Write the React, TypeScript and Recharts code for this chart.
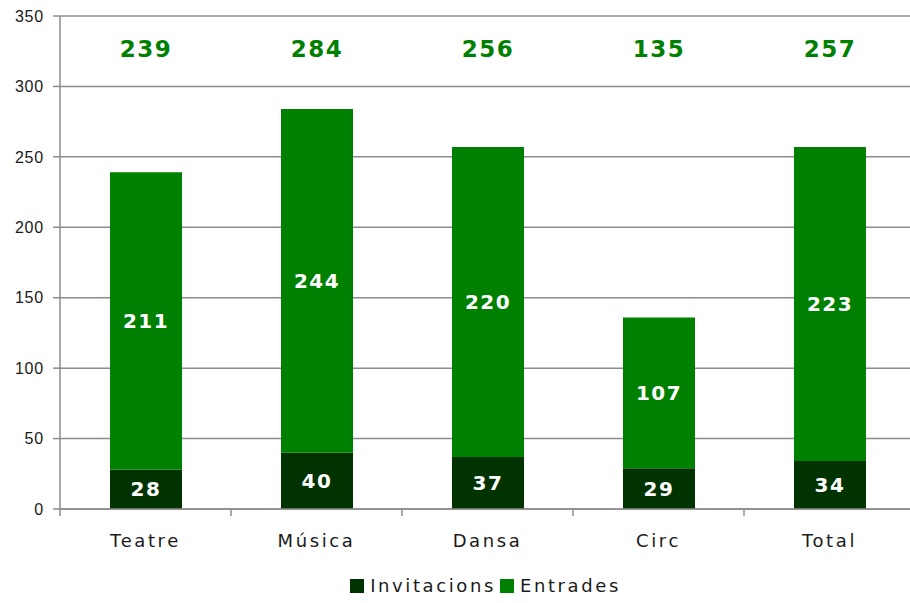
import React from 'react';
import { BarChart, Bar, XAxis, YAxis, CartesianGrid, Legend, LabelList } from 'recharts';

const categories = ['Teatre', 'Música', 'Dansa', 'Circ', 'Total'];
const invitacions = [28, 40, 37, 29, 34];
const entrades = [211, 244, 220, 107, 223];
const totals = [239, 284, 256, 135, 257];
const yTicks = [0, 50, 100, 150, 200, 250, 300, 350];

const DARK = '#003300';
const GREEN = '#008000';
const GRID = '#8c8c8c';

const data = categories.map((c, i) => ({
  name: c,
  Invitacions: invitacions[i],
  Entrades: entrades[i],
  total: totals[i],
}));

const BAND = 171;

const XTick = (props: any) => {
  const { x, y, payload, index } = props;
  const last = index === categories.length - 1;
  return (
    <g>
      <line x1={x - BAND / 2} x2={x - BAND / 2} y1={y - 8} y2={y - 1} stroke={GRID} strokeWidth={1.5} />
      {last && <line x1={x + BAND / 2} x2={x + BAND / 2} y1={y - 8} y2={y - 1} stroke={GRID} strokeWidth={1.5} />}
      <text x={x} y={y + 30} textAnchor="middle" fontFamily="DejaVu Sans" fontSize={18} letterSpacing={2.6} fill="#1a1a1a">
        {payload.value}
      </text>
    </g>
  );
};

const TotalLabel = (props: any) => {
  const { x, width, index } = props;
  return (
    <text x={x + width / 2} y={57} textAnchor="middle" fontFamily="DejaVu Sans" fontWeight="bold" fontSize={23} letterSpacing={1.5} fill={GREEN}>
      {totals[index]}
    </text>
  );
};

const InnerLabel = (props: any) => {
  const { x, y, width, height, value } = props;
  return (
    <text x={x + width / 2} y={y + height / 2 + 7} textAnchor="middle" fontFamily="DejaVu Sans" fontWeight="bold" fontSize={20} letterSpacing={1.5} fill="#ffffff">
      {value}
    </text>
  );
};

const LegendContent = () => (
  <div style={{ display: 'flex', justifyContent: 'center', alignItems: 'center', fontFamily: 'DejaVu Sans', fontSize: 18, letterSpacing: 2.6, color: '#1a1a1a' }}>
    {[['Invitacions', DARK], ['Entrades', GREEN]].map(([n, c]) => (
      <span key={n} style={{ display: 'inline-flex', alignItems: 'center', marginRight: 4 }}>
        <span style={{ display: 'inline-block', width: 14, height: 14, background: c, marginRight: 6 }} />
        {n}
      </span>
    ))}
  </div>
);

export default function App() {
  return (
    <div style={{ position: 'absolute', left: 0, top: 0, width: 910, height: 603, overflow: 'hidden', background: '#fff' }}>
      <BarChart width={920} height={603} data={data} margin={{ top: 16, right: 5, left: 0, bottom: 33 }} barSize={72}>
        <CartesianGrid vertical={false} stroke={GRID} strokeWidth={1.5} />
        <XAxis dataKey="name" tick={<XTick />} tickLine={false} axisLine={{ stroke: GRID, strokeWidth: 1.5 }} height={40} interval={0} />
        <YAxis
          domain={[0, 350]}
          ticks={yTicks}
          width={60}
          tickSize={7}
          tickMargin={9}
          tickLine={{ stroke: GRID, strokeWidth: 1.5 }}
          axisLine={{ stroke: GRID, strokeWidth: 1.5 }}
          tick={{ fontFamily: 'Liberation Sans', fontSize: 16, letterSpacing: 0.8, fill: '#1a1a1a' }}
          interval={0}
        />
        <Legend verticalAlign="bottom" content={<LegendContent />} wrapperStyle={{ top: 575, left: 0, width: 975 }} />
        <Bar dataKey="Invitacions" stackId="a" fill={DARK} isAnimationActive={false}>
          <LabelList dataKey="Invitacions" content={<InnerLabel />} />
        </Bar>
        <Bar dataKey="Entrades" stackId="a" fill={GREEN} isAnimationActive={false}>
          <LabelList dataKey="Entrades" content={<InnerLabel />} />
          <LabelList dataKey="total" content={<TotalLabel />} />
        </Bar>
      </BarChart>
    </div>
  );
}
